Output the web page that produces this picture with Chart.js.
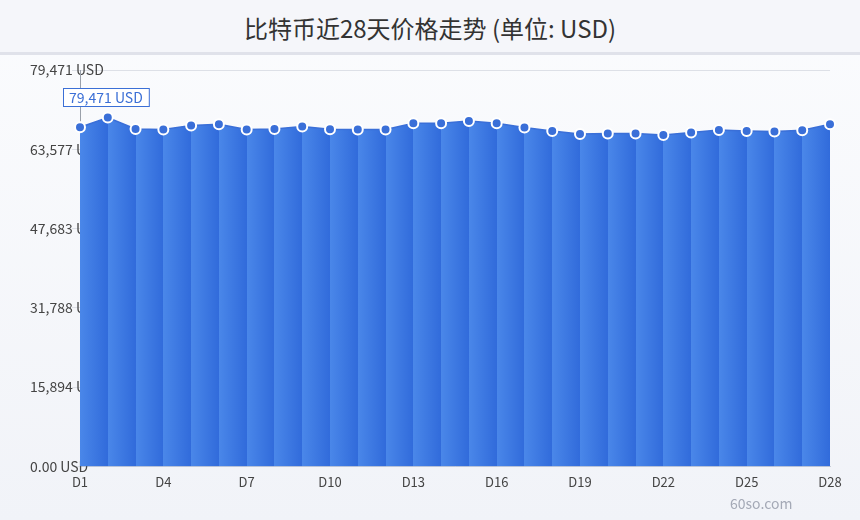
<!DOCTYPE html>
<html>
<head>
<meta charset="utf-8">
<script src="https://cdn.jsdelivr.net/npm/chart.js@4.4.1/dist/chart.umd.min.js"></script>
<style>
  html, body { margin: 0; padding: 0; }
  body {
    width: 860px; height: 520px; overflow: hidden; position: relative;
    font-family: "Noto Sans CJK SC", "Noto Sans", sans-serif;
    background: linear-gradient(to bottom, #fbfcfe 0%, #f1f3f8 100%);
  }
  #head {
    height: 52px; line-height: 56px; text-align: center;
    font-size: 24px; color: #333; background: #f5f6fa;
    border-bottom: 3px solid #e0e2ea;
  }
  #wrap { position: absolute; left: 0; top: 55px; width: 860px; height: 465px; }
  #mark { position: absolute; left: 730px; top: 493px; font-size: 14px; color: #a4a9b6; }
</style>
</head>
<body>
<div id="head">比特币近28天价格走势 (单位: USD)</div>
<div id="wrap"><canvas id="priceChart"></canvas></div>
<div id="mark">60so.com</div>
<script>
// days and closing prices
var days = [];
for (var d = 1; d <= 28; d++) days.push('D' + d);
var prices = [68002, 69954, 67660, 67540, 68344, 68606, 67540, 67660, 68143, 67600,
              67540, 67540, 68807, 68807, 69270, 68807, 67941, 67258, 66654, 66734,
              66734, 66452, 66935, 67459, 67258, 67137, 67399, 68606];
var yMax = 79471;
var yTicks = [0, 15894, 31788, 47683, 63577, 79471];
var noteText = '79,471 USD';

var light = '#4a87e9';
var dark = '#316bdb';

function bandFill(ctx) {
  var chart = ctx.chart;
  var ca = chart.chartArea;
  if (!ca) return light;
  var g = chart.ctx.createLinearGradient(ca.left, 0, ca.right, 0);
  var n = days.length - 1;
  for (var i = 0; i < n; i++) {
    g.addColorStop(i / n, light);
    g.addColorStop((i + 1) / n, dark);
  }
  return g;
}

// leader line + box on the first point
var notePlugin = {
  id: 'note',
  afterDatasetsDraw: function(chart) {
    var c = chart.ctx, ca = chart.chartArea;
    var p = chart.getDatasetMeta(0).data[0];
    c.save();
    c.strokeStyle = '#9aa0aa';
    c.lineWidth = 1;
    c.beginPath();
    c.moveTo(p.x + 0.5, ca.top);
    c.lineTo(p.x + 0.5, p.y - 6);
    c.stroke();
    c.font = '14px "Noto Sans CJK SC"';
    var w = c.measureText(noteText).width + 12;
    var bx = p.x - 17, by = ca.top + 18;
    c.fillStyle = '#ffffff';
    c.fillRect(bx, by, w, 18);
    c.strokeStyle = '#3b6fd6';
    c.strokeRect(bx + 0.5, by + 0.5, w, 18);
    c.fillStyle = '#3b6fd6';
    c.textBaseline = 'middle';
    c.fillText(noteText, bx + 6, by + 9.5);
    c.restore();
  }
};

var chart = new Chart(document.getElementById('priceChart'), {
  type: 'line',
  data: {
    labels: days,
    datasets: [{
      data: prices,
      fill: 'origin',
      backgroundColor: bandFill,
      borderColor: '#3a6fd8',
      borderWidth: 1.5,
      tension: 0,
      pointRadius: 5,
      pointBackgroundColor: '#3a6fd8',
      pointBorderColor: '#ffffff',
      pointBorderWidth: 2
    }]
  },
  options: {
    responsive: true,
    maintainAspectRatio: false,
    animation: false,
    layout: { padding: { left: 30, right: 30, top: 15, bottom: 30 } },
    plugins: { legend: { display: false }, tooltip: { enabled: false } },
    scales: {
      x: {
        offset: false,
        grid: { display: false },
        border: { display: true, color: '#c9cdd6' },
        ticks: {
          autoSkip: false, maxRotation: 0, padding: 0,
          color: '#444', font: { family: 'Noto Sans CJK SC', size: 13 },
          callback: function(v, i) { return i % 3 === 0 ? days[i] : ''; }
        }
      },
      y: {
        min: 0, max: yMax,
        afterBuildTicks: function(s) { s.ticks = yTicks.map(function(v) { return { value: v }; }); },
        afterFit: function(s) { s.width = 50; },
        grid: { color: '#dde0e7' },
        border: { display: false },
        ticks: {
          mirror: true, crossAlign: 'near', padding: -50,
          color: '#444', font: { family: 'Noto Sans CJK SC', size: 14 },
          callback: function(v) { return v === 0 ? '0.00 USD' : v.toLocaleString('en-US') + ' USD'; }
        }
      }
    }
  },
  plugins: [notePlugin]
});
</script>
</body>
</html>
